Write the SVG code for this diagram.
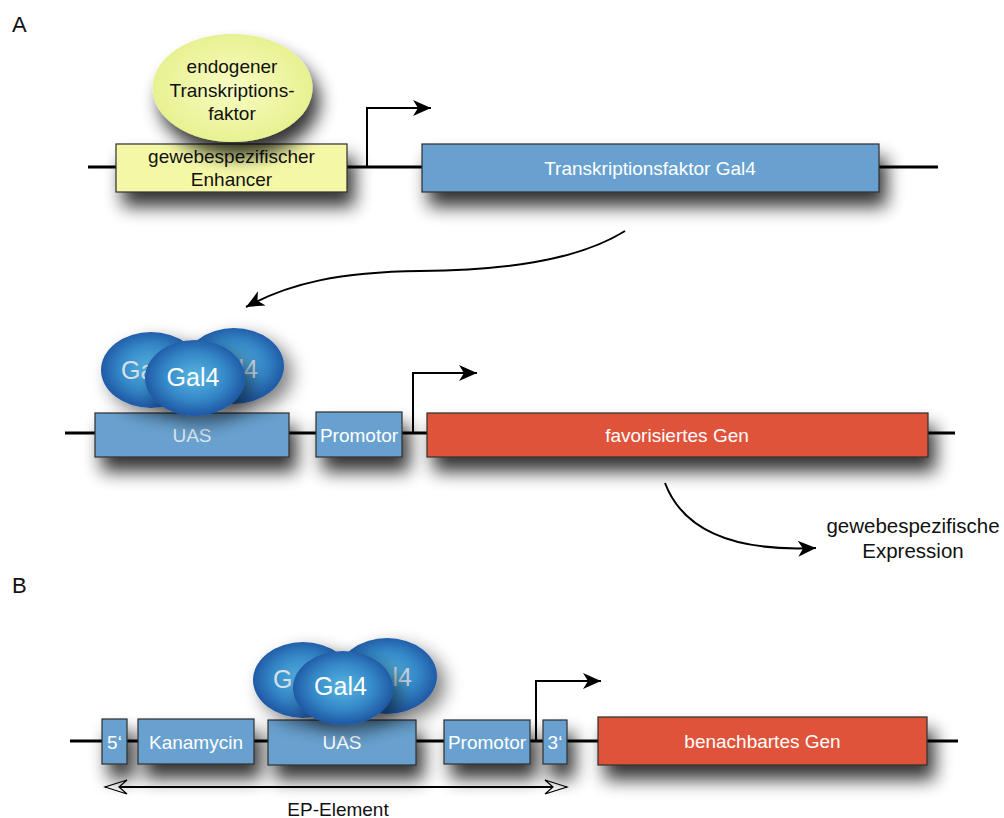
<svg xmlns="http://www.w3.org/2000/svg" width="1004" height="818" viewBox="0 0 1004 818">
<defs>
<style>
text{font-family:"Liberation Sans",Arial,sans-serif;}
.lbl{font-size:19px;text-anchor:middle;}
.wt{fill:#ffffff;}
.dk{fill:#111111;}
.blue{fill:#67a1cf;stroke:#2e2e2e;stroke-width:1.2;}
.red{fill:#e0533b;stroke:#2e2e2e;stroke-width:1.2;}
.yel{fill:#f4f8a6;stroke:#2e2e2e;stroke-width:1.2;}
.dna{stroke:#000;stroke-width:3;fill:none;}
.arr{stroke:#000;stroke-width:2;fill:none;}
.gal{font-size:25px;}
.big{font-size:22px;fill:#111;}
</style>
<filter id="sh" x="-100%" y="-100%" width="300%" height="340%">
<feGaussianBlur in="SourceAlpha" stdDeviation="9"/>
<feOffset dx="7" dy="14" result="b"/>
<feComponentTransfer><feFuncA type="linear" slope="0.8"/></feComponentTransfer>
<feMerge><feMergeNode/><feMergeNode in="SourceGraphic"/></feMerge>
</filter>
<filter id="shE" x="-100%" y="-100%" width="300%" height="340%">
<feGaussianBlur in="SourceAlpha" stdDeviation="9"/>
<feOffset dx="8" dy="8" result="b"/>
<feComponentTransfer><feFuncA type="linear" slope="0.5"/></feComponentTransfer>
<feMerge><feMergeNode/><feMergeNode in="SourceGraphic"/></feMerge>
</filter>
<radialGradient id="gGal" cx="50%" cy="48%" r="55%">
<stop offset="0" stop-color="#57b6df"/>
<stop offset="0.55" stop-color="#3589c9"/>
<stop offset="1" stop-color="#1c4f9e"/>
</radialGradient>
<radialGradient id="gYel" cx="50%" cy="50%" r="55%">
<stop offset="0" stop-color="#f8fcc4"/>
<stop offset="1" stop-color="#e6f08c"/>
</radialGradient>
<marker id="ah" markerUnits="userSpaceOnUse" markerWidth="24" markerHeight="20" viewBox="-20 -10 24 20" refX="0" refY="0" orient="auto">
<path d="M0,0 L-18,-8 L-13,0 L-18,8 Z" fill="#000"/>
</marker>
<marker id="ahOpen" markerUnits="userSpaceOnUse" markerWidth="28" markerHeight="18" viewBox="-24 -9 26 18" refX="0" refY="0" orient="auto-start-reverse">
<path d="M0,0 L-22,-7 L-14,0 L-22,7 Z" fill="#fff" stroke="#000" stroke-width="1.2"/>
</marker>
</defs>

<text class="big" x="12" y="32">A</text>
<text class="big" x="12" y="593">B</text>

<g id="connectors">
<path class="dna" d="M88,167 H938"/>
<path class="dna" d="M65,433 H955"/>
<path class="dna" d="M70,741 H958"/>
<path class="arr" d="M367,167 V108 H431" marker-end="url(#ah)"/>
<path class="arr" d="M413,433 V373 H477" marker-end="url(#ah)"/>
<path class="arr" d="M536,741 V681 H601" marker-end="url(#ah)"/>
<path class="arr" stroke-width="2.5" d="M625,231 C575,262 500,270 420,271 C340,272 290,283 246,307" marker-end="url(#ah)"/>
<path class="arr" stroke-width="2.5" d="M665,483 C682,528 730,552 816,548" marker-end="url(#ah)"/>
<path class="arr" stroke-width="1.5" d="M105,787 H567" marker-start="url(#ahOpen)" marker-end="url(#ahOpen)"/>
</g>

<g id="enhancer">
<rect class="yel" x="116" y="144" width="231" height="48" filter="url(#sh)"/>
<text class="lbl dk" x="231.5" y="163">gewebespezifischer</text>
<text class="lbl dk" x="231.5" y="186">Enhancer</text>
</g>
<g id="endogenous-tf">
<ellipse cx="232.5" cy="88" rx="80" ry="54" fill="url(#gYel)" filter="url(#sh)"/>
<text class="lbl dk" x="232" y="73">endogener</text>
<text class="lbl dk" x="232" y="97">Transkriptions-</text>
<text class="lbl dk" x="232" y="120">faktor</text>
</g>
<g id="gal4-gene">
<rect class="blue" x="422" y="144" width="457" height="48" filter="url(#sh)"/>
<text class="lbl wt" x="650" y="175">Transkriptionsfaktor Gal4</text>
</g>

<g id="uas-a">
<rect class="blue" x="95" y="413" width="194" height="44" filter="url(#sh)"/>
<text class="lbl" fill="#dfe6ee" x="192" y="442">UAS</text>
</g>
<g id="gal4-a">
<ellipse cx="151" cy="370" rx="50" ry="38" fill="url(#gGal)" filter="url(#shE)"/>
<text class="gal" fill="#d6e0ea" x="121" y="379">Ga</text>
<ellipse cx="234" cy="366" rx="50" ry="38" fill="url(#gGal)" filter="url(#shE)"/>
<text class="gal" fill="#c9d5e1" x="258" y="378" text-anchor="end">l4</text>
<ellipse cx="195" cy="378" rx="50" ry="38" fill="url(#gGal)" filter="url(#shE)"/>
<text class="gal wt" x="193" y="386" text-anchor="middle">Gal4</text>
</g>
<g id="promotor-a">
<rect class="blue" x="316" y="412" width="86" height="45" filter="url(#sh)"/>
<text class="lbl wt" x="359" y="442">Promotor</text>
</g>
<g id="fav-gene">
<rect class="red" x="427" y="413" width="501" height="44" filter="url(#sh)"/>
<text class="lbl wt" x="677" y="442">favorisiertes Gen</text>
</g>
<g id="expression-label">
<text class="dk" font-size="20.5" text-anchor="middle" x="913" y="533">gewebespezifische</text>
<text class="dk" font-size="20.5" text-anchor="middle" x="913" y="558">Expression</text>
</g>

<g id="five-prime">
<rect class="blue" x="102" y="719" width="25" height="45" filter="url(#sh)"/>
<text class="lbl wt" x="114.5" y="749">5&#8216;</text>
</g>
<g id="kanamycin">
<rect class="blue" x="138" y="719" width="116" height="45" filter="url(#sh)"/>
<text class="lbl wt" x="196" y="749">Kanamycin</text>
</g>
<g id="uas-b">
<rect class="blue" x="268" y="720" width="148" height="45" filter="url(#sh)"/>
<text class="lbl" fill="#ffffff" x="342" y="749">UAS</text>
</g>
<g id="gal4-b">
<ellipse cx="303" cy="680" rx="50" ry="38" fill="url(#gGal)" filter="url(#shE)"/>
<text class="gal" fill="#d6e0ea" x="273" y="688">G</text>
<ellipse cx="387" cy="676" rx="50" ry="38" fill="url(#gGal)" filter="url(#shE)"/>
<text class="gal" fill="#c9d5e1" x="412" y="686" text-anchor="end">l4</text>
<ellipse cx="343" cy="688" rx="50" ry="37" fill="url(#gGal)" filter="url(#shE)"/>
<text class="gal wt" x="340.5" y="695" text-anchor="middle">Gal4</text>
</g>
<g id="promotor-b">
<rect class="blue" x="444" y="720" width="86" height="44" filter="url(#sh)"/>
<text class="lbl wt" x="487" y="749">Promotor</text>
</g>
<g id="three-prime">
<rect class="blue" x="543" y="720" width="24" height="44" filter="url(#sh)"/>
<text class="lbl wt" x="555" y="749">3&#8216;</text>
</g>
<g id="neighbour-gene">
<rect class="red" x="598" y="717" width="329" height="48" filter="url(#sh)"/>
<text class="lbl wt" x="762.5" y="748">benachbartes Gen</text>
</g>
<g id="ep-label">
<text class="lbl dk" x="338" y="816">EP-Element</text>
</g>
</svg>
